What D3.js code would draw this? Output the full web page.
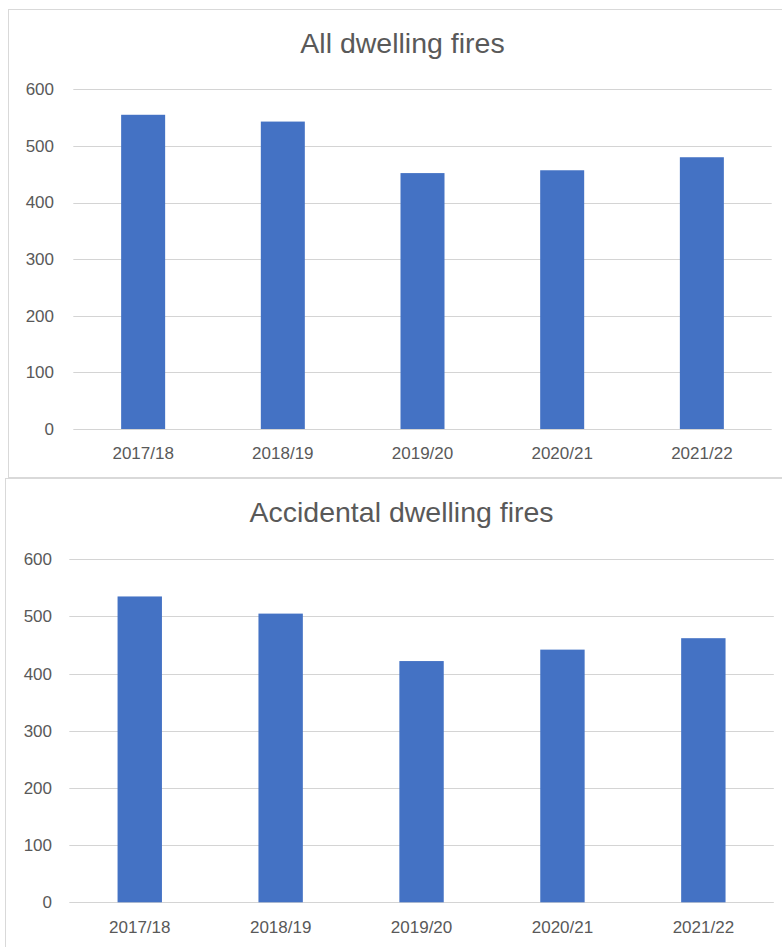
<!DOCTYPE html>
<html>
<head>
<meta charset="utf-8">
<script src="https://cdn.jsdelivr.net/npm/d3@7"></script>
<style>
  html, body { margin: 0; padding: 0; background: #fff; }
  svg { display: block; }
  text { font-family: "Liberation Sans", Arial, sans-serif; fill: #595959; }
</style>
</head>
<body>
<svg id="chart" width="782" height="947"></svg>
<script>
// Financial years shown on the x axis
const years = ["2017/18", "2018/19", "2019/20", "2020/21", "2021/22"];
// Number of dwelling fires per year
const allFires = [555, 543, 452, 457, 480];
const accidentalFires = [535, 505, 422, 442, 462];
// Value axis ticks
const yTicks = [0, 100, 200, 300, 400, 500, 600];
const titles = ["All dwelling fires", "Accidental dwelling fires"];

const svg = d3.select("#chart");
const barColor = "#4472C4";
const gridColor = "#d4d4d4";
const frameColor = "#d9d9d9";

// Panel layout: frame box, plot area and label baselines
const panels = [
  { title: titles[0], values: allFires,
    box: { x: 8.5, y: 9.5, w: 790, h: 468 },
    titleY: 53, left: 73.3, right: 771.7, top: 89.3, bottom: 429,
    tickRight: 54, xLabelY: 458.5 },
  { title: titles[1], values: accidentalFires,
    box: { x: 5.5, y: 478.5, w: 790, h: 480 },
    titleY: 522, left: 69.3, right: 773.8, top: 559.3, bottom: 902.3,
    tickRight: 52, xLabelY: 933 }
];

panels.forEach(p => {
  const g = svg.append("g");

  g.append("rect")
    .attr("x", p.box.x).attr("y", p.box.y)
    .attr("width", p.box.w).attr("height", p.box.h)
    .attr("fill", "#fff")
    .attr("stroke", frameColor).attr("stroke-width", 1);

  const x = d3.scaleBand()
    .domain(years)
    .range([p.left, p.right])
    .paddingInner(0.685)
    .paddingOuter(0.3425);

  const y = d3.scaleLinear()
    .domain([0, 600])
    .range([p.bottom, p.top]);

  // Title
  g.append("text")
    .attr("x", (p.left + p.right) / 2 - 20)
    .attr("y", p.titleY)
    .attr("text-anchor", "middle")
    .style("font-size", "28.5px")
    .text(p.title);

  // Horizontal gridlines
  g.append("g")
    .selectAll("line")
    .data(yTicks)
    .join("line")
    .attr("x1", p.left).attr("x2", p.right)
    .attr("y1", d => Math.round(y(d)) + 0.5)
    .attr("y2", d => Math.round(y(d)) + 0.5)
    .attr("stroke", gridColor)
    .attr("stroke-width", 1);

  // Value axis labels
  const yAxis = d3.axisLeft(y).tickValues(yTicks).tickSize(0).tickPadding(0);
  const ya = g.append("g")
    .attr("transform", `translate(${p.tickRight},0)`)
    .call(yAxis);
  ya.select(".domain").remove();
  ya.selectAll("text")
    .attr("fill", "#595959")
    .style("font-family", '"Liberation Sans", Arial, sans-serif')
    .style("font-size", "17px");

  // Bars
  g.append("g")
    .selectAll("rect")
    .data(p.values)
    .join("rect")
    .attr("x", (d, i) => x(years[i]))
    .attr("y", d => y(d))
    .attr("width", x.bandwidth())
    .attr("height", d => y(0) - y(d))
    .attr("fill", barColor);

  // Category labels
  const xAxis = d3.axisBottom(x).tickSize(0).tickPadding(0);
  const xa = g.append("g")
    .attr("transform", `translate(0,${p.xLabelY})`)
    .call(xAxis);
  xa.select(".domain").remove();
  xa.selectAll("text")
    .attr("fill", "#595959")
    .attr("dy", 0)
    .style("font-family", '"Liberation Sans", Arial, sans-serif')
    .style("font-size", "17px");
});
</script>
</body>
</html>
